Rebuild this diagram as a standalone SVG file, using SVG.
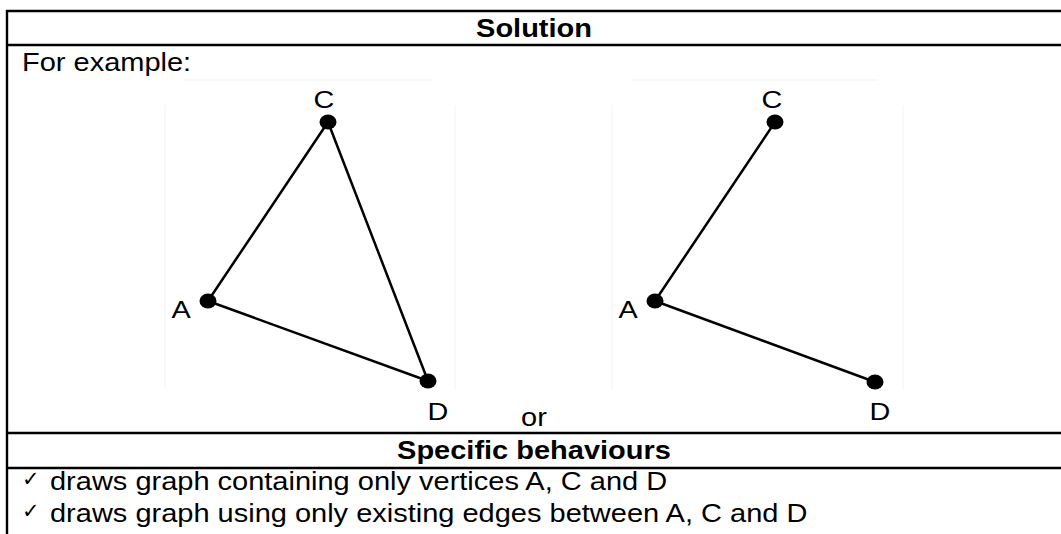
<svg xmlns="http://www.w3.org/2000/svg" width="1061" height="534" viewBox="0 0 1061 534">
  <style>
    .rule { stroke: #000; stroke-width: 2.4; fill: none; }
    .frame { stroke: #f3f3f3; stroke-width: 1; fill: none; }
    .body { font-family: "Liberation Sans", Arial, sans-serif; font-size: 25px; fill: #000; }
    .head { font-family: "Liberation Sans", Arial, sans-serif; font-size: 25px; font-weight: bold; fill: #000; text-anchor: middle; }
    .tick { font-family: "DejaVu Sans", sans-serif; font-size: 21px; fill: #000; }
    .lbl { font-family: "Liberation Sans", Arial, sans-serif; font-size: 24px; fill: #000; text-anchor: middle; }
    .edge { stroke: #000; stroke-width: 2.5; stroke-linecap: round; fill: none; }
    .dot { fill: #000; }
  </style>

  <rect width="1061" height="534" fill="#fff"/>

  <!-- table rules -->
  <g id="table">
    <line class="rule" x1="7" y1="10" x2="7" y2="534"/>
    <line class="rule" x1="6" y1="11" x2="1061" y2="11"/>
    <line class="rule" x1="6" y1="45" x2="1061" y2="45"/>
    <line class="rule" x1="6" y1="433" x2="1061" y2="433"/>
    <line class="rule" x1="6" y1="468" x2="1061" y2="468"/>
  </g>

  <!-- table text (set slightly wide) -->
  <g id="heading-solution"><text class="head" transform="translate(534,37) scale(1.16,1)">Solution</text></g>
  <g id="intro"><text class="body" transform="translate(22,71) scale(1.16,1)">For example:</text></g>
  <g id="or-label"><text class="body" text-anchor="middle" transform="translate(534,426) scale(1.16,1)">or</text></g>
  <g id="heading-behaviours"><text class="head" transform="translate(534,459) scale(1.16,1)">Specific behaviours</text></g>
  <g id="behaviour-1">
    <text class="tick" x="22" y="486">✓</text>
    <text class="body" transform="translate(50,490) scale(1.16,1)">draws graph containing only vertices A, C and D</text>
  </g>
  <g id="behaviour-2">
    <text class="tick" x="22" y="518">✓</text>
    <text class="body" transform="translate(50,522) scale(1.16,1)">draws graph using only existing edges between A, C and D</text>
  </g>

  <!-- faint picture frames behind the two graphs -->
  <g id="frames">
    <path class="frame" d="M183 80 H433 M165 105 V390 M455 105 V390"/>
    <path class="frame" d="M632 80 H878 M612 105 V390 M903 105 V390"/>
  </g>

  <!-- connectors -->
  <g id="connectors">
    <line class="edge" x1="208" y1="301" x2="328" y2="122"/>
    <line class="edge" x1="328" y1="122" x2="428" y2="381"/>
    <line class="edge" x1="208" y1="301" x2="428" y2="381"/>
    <line class="edge" x1="655" y1="301" x2="775" y2="122"/>
    <line class="edge" x1="655" y1="301" x2="875" y2="382"/>
  </g>

  <!-- left graph vertices -->
  <g id="left-C">
    <ellipse class="dot" cx="328" cy="122" rx="8.5" ry="7.5"/>
    <text class="lbl" transform="translate(324,108) scale(1.2,1)">C</text>
  </g>
  <g id="left-A">
    <ellipse class="dot" cx="208" cy="301" rx="8.5" ry="7.5"/>
    <text class="lbl" transform="translate(181,318) scale(1.2,1)">A</text>
  </g>
  <g id="left-D">
    <ellipse class="dot" cx="428" cy="381" rx="8.5" ry="7.5"/>
    <text class="lbl" transform="translate(438,420) scale(1.2,1)">D</text>
  </g>

  <!-- right graph vertices -->
  <g id="right-C">
    <ellipse class="dot" cx="775" cy="122" rx="8.5" ry="7.5"/>
    <text class="lbl" transform="translate(772,108) scale(1.2,1)">C</text>
  </g>
  <g id="right-A">
    <ellipse class="dot" cx="655" cy="301" rx="8.5" ry="7.5"/>
    <text class="lbl" transform="translate(628,318) scale(1.2,1)">A</text>
  </g>
  <g id="right-D">
    <ellipse class="dot" cx="875" cy="382" rx="8.5" ry="7.5"/>
    <text class="lbl" transform="translate(880,420) scale(1.2,1)">D</text>
  </g>
</svg>
